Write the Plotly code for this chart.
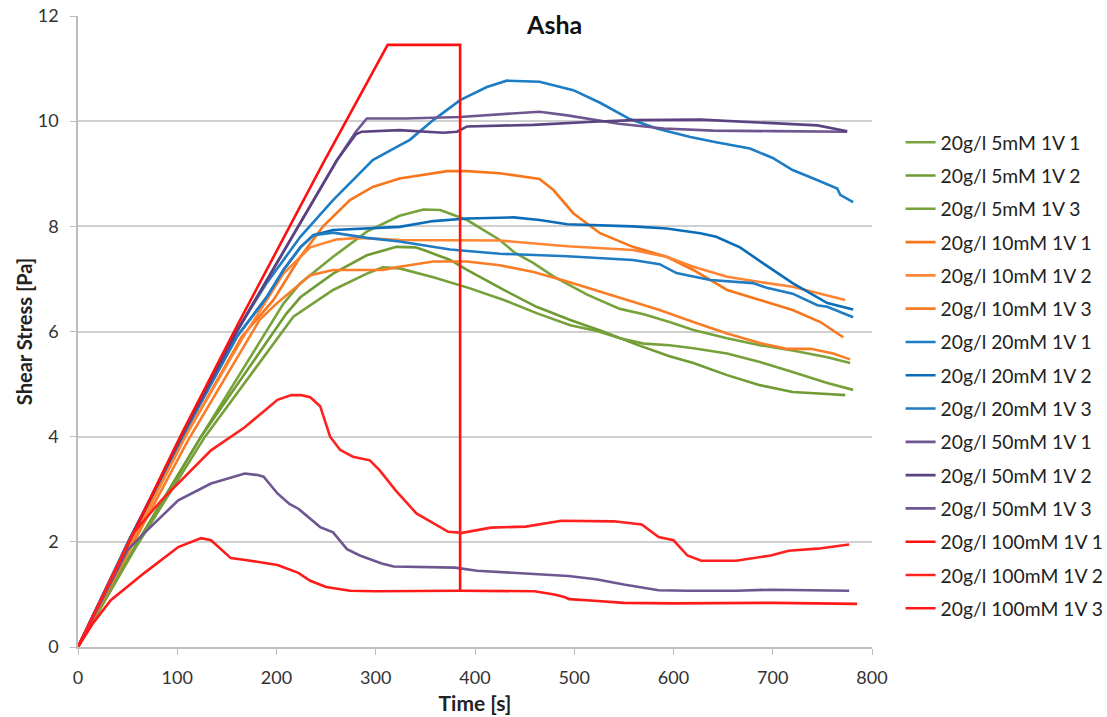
import plotly.graph_objects as go

# ---- data ----
names = ["20g/l 5mM 1V 1", "20g/l 5mM 1V 2", "20g/l 5mM 1V 3",
         "20g/l 10mM 1V 1", "20g/l 10mM 1V 2", "20g/l 10mM 1V 3",
         "20g/l 20mM 1V 1", "20g/l 20mM 1V 2", "20g/l 20mM 1V 3",
         "20g/l 50mM 1V 1", "20g/l 50mM 1V 2", "20g/l 50mM 1V 3",
         "20g/l 100mM 1V 1", "20g/l 100mM 1V 2", "20g/l 100mM 1V 3"]

g1_x = [0, 60, 124, 207, 224, 257, 291, 324, 348, 365, 392, 425, 440, 459, 479, 513, 546, 570, 596, 620, 654, 687, 720, 755, 778]
g1_y = [0, 2.0, 4.0, 6.53, 6.92, 7.42, 7.9, 8.2, 8.32, 8.31, 8.12, 7.74, 7.5, 7.3, 7.05, 6.7, 6.43, 6.33, 6.18, 6.03, 5.87, 5.74, 5.64, 5.51, 5.4]
g2_x = [0, 60, 124, 210, 224, 257, 291, 321, 340, 351, 375, 392, 429, 462, 496, 529, 563, 596, 620, 654, 687, 720, 755, 773]
g2_y = [0, 1.98, 4.0, 6.34, 6.65, 7.1, 7.45, 7.61, 7.6, 7.53, 7.36, 7.17, 6.79, 6.47, 6.22, 6.0, 5.75, 5.53, 5.4, 5.17, 4.98, 4.85, 4.81, 4.79]
g3_x = [0, 60, 128, 217, 257, 291, 307, 324, 358, 395, 429, 462, 496, 523, 546, 570, 596, 620, 654, 687, 720, 755, 781]
g3_y = [0, 1.95, 4.0, 6.28, 6.79, 7.1, 7.22, 7.2, 7.03, 6.82, 6.6, 6.35, 6.12, 6.01, 5.87, 5.77, 5.74, 5.68, 5.58, 5.42, 5.23, 5.02, 4.89]

o1_x = [0, 55, 108, 165, 197, 224, 247, 274, 297, 324, 372, 392, 425, 465, 479, 499, 513, 526, 559, 593, 620, 654, 687, 720, 748, 771]
o1_y = [0, 2.05, 4.0, 5.9, 6.6, 7.42, 8.0, 8.5, 8.75, 8.91, 9.05, 9.05, 9.01, 8.9, 8.69, 8.25, 8.05, 7.87, 7.61, 7.42, 7.17, 6.79, 6.6, 6.41, 6.18, 5.89]
o2_x = [0, 55, 108, 165, 207, 234, 260, 284, 324, 425, 493, 559, 593, 620, 654, 687, 720, 748, 773]
o2_y = [0, 2.05, 4.0, 5.85, 7.1, 7.6, 7.75, 7.78, 7.74, 7.73, 7.62, 7.55, 7.42, 7.23, 7.04, 6.94, 6.85, 6.72, 6.6]
o3_x = [0, 56, 110, 183, 200, 234, 257, 307, 324, 358, 392, 425, 459, 493, 526, 559, 586, 620, 654, 687, 714, 738, 761, 778]
o3_y = [0, 2.0, 3.9, 6.22, 6.53, 7.07, 7.17, 7.17, 7.23, 7.33, 7.33, 7.26, 7.13, 6.95, 6.76, 6.56, 6.41, 6.18, 5.96, 5.78, 5.67, 5.67, 5.58, 5.47]

b1_x = [0, 52, 105, 158, 190, 224, 257, 297, 324, 334, 358, 385, 412, 432, 465, 499, 526, 556, 583, 617, 643, 677, 700, 720, 741, 765, 768, 781]
b1_y = [0, 2.05, 4.0, 5.95, 6.92, 7.8, 8.5, 9.26, 9.54, 9.64, 10.02, 10.4, 10.65, 10.77, 10.75, 10.59, 10.35, 10.04, 9.86, 9.7, 9.6, 9.48, 9.3, 9.07, 8.91, 8.72, 8.6, 8.46]
b2_x = [0, 52, 105, 160, 190, 207, 224, 237, 257, 324, 358, 392, 439, 465, 493, 526, 559, 593, 627, 643, 667, 690, 720, 755, 781]
b2_y = [0, 2.05, 4.0, 5.9, 6.65, 7.17, 7.6, 7.83, 7.93, 7.99, 8.1, 8.15, 8.17, 8.12, 8.04, 8.02, 8.0, 7.96, 7.87, 7.8, 7.6, 7.3, 6.92, 6.54, 6.42]
b3_x = [0, 52, 105, 160, 190, 207, 224, 237, 257, 274, 291, 324, 375, 425, 493, 559, 586, 603, 637, 680, 694, 720, 745, 755, 781]
b3_y = [0, 2.05, 4.0, 5.9, 6.65, 7.17, 7.6, 7.83, 7.88, 7.83, 7.78, 7.71, 7.56, 7.48, 7.43, 7.36, 7.28, 7.11, 6.98, 6.92, 6.83, 6.72, 6.5, 6.47, 6.27]

p1_x = [0, 52, 104, 160, 261, 280, 291, 330, 385, 465, 493, 520, 545, 590, 640, 700, 775]
p1_y = [0, 2.02, 4.0, 6.0, 9.26, 9.8, 10.05, 10.05, 10.08, 10.18, 10.11, 10.02, 9.95, 9.86, 9.82, 9.81, 9.8]
p2_x = [0, 52, 104, 160, 261, 280, 286, 324, 368, 382, 392, 459, 519, 560, 627, 694, 745, 775]
p2_y = [0, 2.02, 4.0, 6.0, 9.26, 9.75, 9.8, 9.83, 9.78, 9.8, 9.9, 9.93, 9.99, 10.02, 10.03, 9.97, 9.92, 9.81]
p3_x = [0, 50, 67, 101, 134, 168, 181, 187, 201, 213, 222, 234, 244, 257, 271, 284, 306, 318, 380, 402, 451, 494, 522, 550, 585, 614, 663, 698, 777]
p3_y = [0, 1.85, 2.17, 2.79, 3.11, 3.3, 3.27, 3.24, 2.92, 2.72, 2.63, 2.44, 2.28, 2.18, 1.86, 1.74, 1.59, 1.53, 1.51, 1.45, 1.39, 1.35, 1.29, 1.19, 1.08, 1.07, 1.07, 1.09, 1.07]

r1_x = [0, 103, 160, 247, 312, 385, 385]
r1_y = [0, 4.0, 6.1, 9.2, 11.45, 11.45, 1.07]
r2_x = [0, 28, 55, 84, 100, 134, 168, 201, 215, 225, 234, 244, 254, 264, 277, 294, 304, 320, 341, 355, 373, 387, 416, 451, 487, 540, 568, 585, 600, 614, 628, 663, 698, 716, 745, 777]
r2_y = [0, 1.1, 2.15, 2.79, 3.1, 3.74, 4.18, 4.7, 4.79, 4.79, 4.75, 4.58, 4.0, 3.75, 3.62, 3.55, 3.36, 2.98, 2.54, 2.38, 2.19, 2.17, 2.27, 2.29, 2.4, 2.39, 2.33, 2.09, 2.03, 1.74, 1.64, 1.64, 1.74, 1.83, 1.87, 1.95]
r3_x = [0, 15, 33, 67, 101, 124, 134, 154, 174, 201, 222, 234, 250, 274, 300, 385, 460, 480, 490, 495, 520, 550, 600, 700, 785]
r3_y = [0, 0.45, 0.89, 1.41, 1.9, 2.07, 2.03, 1.69, 1.64, 1.56, 1.41, 1.26, 1.14, 1.07, 1.06, 1.07, 1.06, 1.0, 0.95, 0.91, 0.88, 0.84, 0.83, 0.84, 0.82]

xs = [g1_x, g2_x, g3_x, o1_x, o2_x, o3_x, b1_x, b2_x, b3_x, p1_x, p2_x, p3_x, r1_x, r2_x, r3_x]
ys = [g1_y, g2_y, g3_y, o1_y, o2_y, o3_y, b1_y, b2_y, b3_y, p1_y, p2_y, p3_y, r1_y, r2_y, r3_y]
colors = ["#77A33C", "#6F9B33", "#75A03A",
          "#F8761B", "#FF8533", "#F97D26",
          "#1C7CC4", "#0B6DB7", "#1F7BC2",
          "#6F5690", "#5B4280", "#6E5690",
          "#FF1010", "#FF2020", "#FF1A1A"]

x_ticks = [0, 100, 200, 300, 400, 500, 600, 700, 800]
y_ticks = [0, 2, 4, 6, 8, 10, 12]

fig = go.Figure()
for i in range(len(names)):
    fig.add_trace(go.Scatter(x=xs[i], y=ys[i], mode="lines", name=names[i],
                             legendgroup=str(i),
                             line=dict(color=colors[i], width=2.6)))

font_family = "Lato, 'Open Sans', sans-serif"
fig.update_layout(
    width=1107, height=717,
    paper_bgcolor="white", plot_bgcolor="white",
    margin=dict(l=78, r=235, t=16, b=70, autoexpand=False),
    font=dict(family=font_family, color="#333333", size=17),
    title=dict(text="<b>Asha</b>", x=0.501, xref="container", xanchor="center",
               y=0.965, yref="container", yanchor="middle",
               font=dict(size=25, color="#111111")),
    xaxis=dict(range=[0, 800], tickvals=x_ticks, showgrid=False,
               showline=True, linecolor="#BDBDBD", linewidth=1.5,
               ticks="outside", ticklen=6, tickcolor="#BDBDBD",
               ticklabelstandoff=8,
               zeroline=False, tickfont=dict(size=18, color="#333333"),
               title=dict(text="<b>Time [s]</b>", font=dict(size=21, color="#222222"), standoff=9)),
    yaxis=dict(range=[0, 12], tickvals=y_ticks, showgrid=True, gridcolor="#D0D0D0", gridwidth=1.6,
               showline=True, linecolor="#BDBDBD", linewidth=1.5,
               ticks="outside", ticklen=6, tickcolor="#BDBDBD",
               ticklabelstandoff=8,
               zeroline=False, tickfont=dict(size=18, color="#333333"),
               title=dict(text="<b>Shear Stress [Pa]</b>", font=dict(size=20, color="#222222"), standoff=0)),
    legend=dict(x=1.036, xanchor="left", y=0.43, yanchor="middle",
                font=dict(size=19.3, color="#222222"), tracegroupgap=5.2,
                itemwidth=30, bgcolor="rgba(0,0,0,0)"),
    showlegend=True,
)

fig.write_html("out.html", config={"displayModeBar": False},
               post_script="document.body.style.margin='0px';")
